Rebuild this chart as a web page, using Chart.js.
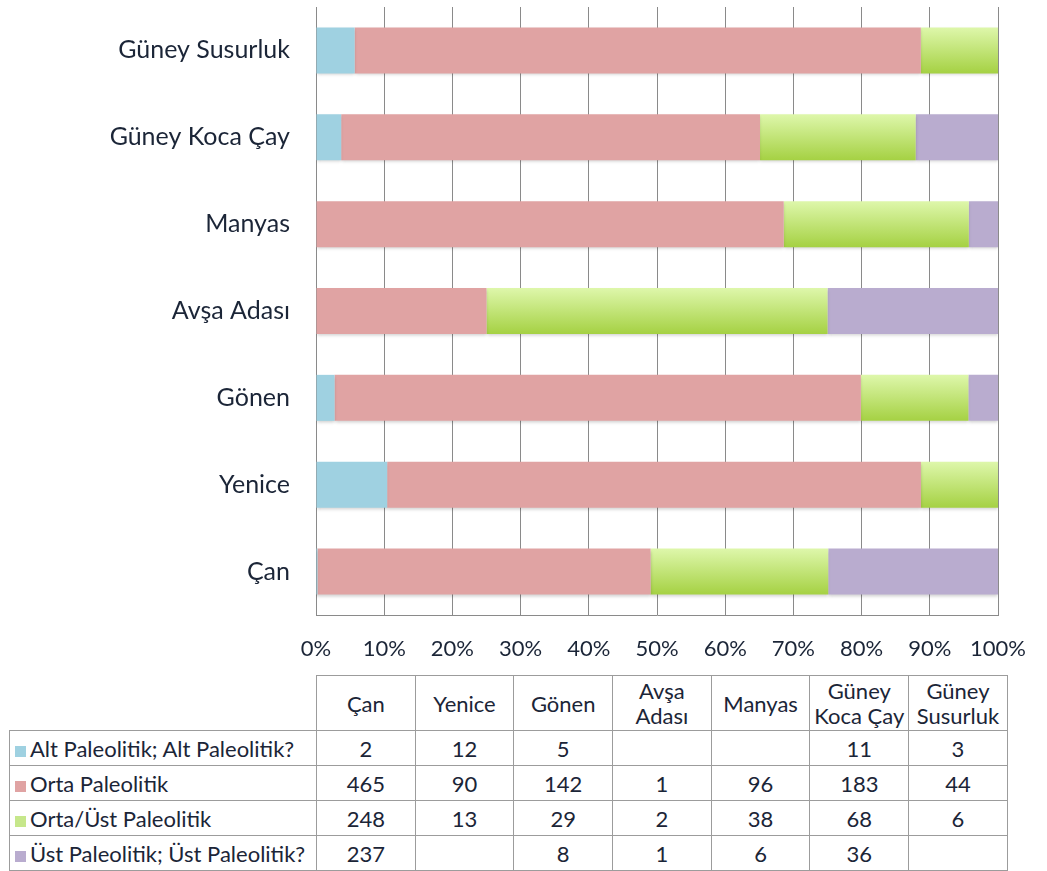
<!DOCTYPE html>
<html lang="tr">
<head>
<meta charset="utf-8">
<script src="https://cdn.jsdelivr.net/npm/chart.js@4"></script>
<style>
    body { margin: 0; background: #fff; font-family: Lato, "Noto Sans", sans-serif; color: #1b2537; }
    #kutu { position: relative; width: 1047px; height: 672px; }
    #tablo {
        position: absolute; left: 9px; top: 675px;
        border-collapse: collapse; table-layout: fixed; font-size: 22px;
    }
    #tablo td { border: 1px solid #9c9c9c; text-align: center; padding: 0; height: 34px; }
    #tablo thead td { height: 54px; line-height: 25px; }
    #tablo thead td.bos { border: none; }
    #tablo td.seri { text-align: left; padding-left: 5px; white-space: nowrap; }
    .kare { display: inline-block; width: 11px; height: 11px; margin-right: 4px; }
</style>
</head>
<body>
<div id="kutu"><canvas id="grafik"></canvas></div>
<table id="tablo"></table>
<script>
// bölgeler (tablo sırası; grafikte alttan üste)
const bolgeler = ['Çan', 'Yenice', 'Gönen', 'Avşa Adası', 'Manyas', 'Güney Koca Çay', 'Güney Susurluk'];
const tabloBasliklari = [['Çan'], ['Yenice'], ['Gönen'], ['Avşa', 'Adası'], ['Manyas'], ['Güney', 'Koca Çay'], ['Güney', 'Susurluk']];

const seriAdlari = ['Alt Paleolitik; Alt Paleolitik?', 'Orta Paleolitik', 'Orta/Üst Paleolitik', 'Üst Paleolitik; Üst Paleolitik?'];
const altPaleolitik = [2, 12, 5, null, null, 11, 3];
const ortaPaleolitik = [465, 90, 142, 1, 96, 183, 44];
const ortaUstPaleolitik = [248, 13, 29, 2, 38, 68, 6];
const ustPaleolitik = [237, null, 8, 1, 6, 36, null];

const eksenEtiketleri = ['0%', '10%', '20%', '30%', '40%', '50%', '60%', '70%', '80%', '90%', '100%'];

const renkler = ['#9fd1e1', '#e0a3a3', '#c6e78b', '#b9accf'];
const seriler = [altPaleolitik, ortaPaleolitik, ortaUstPaleolitik, ustPaleolitik];

const toplamlar = bolgeler.map((_, i) => seriler.reduce((t, s) => t + (s[i] || 0), 0));
const yuzde = (s) => s.map((v, i) => v == null ? null : v / toplamlar[i] * 100);

const cubukOrani = 0.53;

// Orta/Üst çubukları için yukarıdan aşağı açık-koyu yeşil geçiş
const yesilGecis = (c) => {
    const chart = c.chart;
    const y = chart.scales.y;
    if (!chart.chartArea || !y) return renkler[2];
    const orta = y.getPixelForValue(c.dataIndex);
    const yarim = Math.abs(y.getPixelForValue(1) - y.getPixelForValue(0)) * cubukOrani / 2;
    const g = chart.ctx.createLinearGradient(0, orta - yarim, 0, orta + yarim);
    g.addColorStop(0, '#def7ab');
    g.addColorStop(1, '#a5d143');
    return g;
};

const golge = {
    id: 'golge',
    beforeDatasetsDraw(chart) {
        const ctx = chart.ctx;
        ctx.save();
        ctx.shadowColor = 'rgba(0,0,0,0.18)';
        ctx.shadowBlur = 3;
        ctx.shadowOffsetY = 2;
    },
    afterDatasetsDraw(chart) { chart.ctx.restore(); }
};

const yazi = { family: 'Lato, "Noto Sans", sans-serif' };

new Chart(document.getElementById('grafik'), {
    type: 'bar',
    data: {
        labels: bolgeler,
        datasets: seriler.map((s, i) => ({
            label: seriAdlari[i],
            data: yuzde(s),
            backgroundColor: i === 2 ? yesilGecis : renkler[i],
            borderWidth: 0,
            barPercentage: cubukOrani,
            categoryPercentage: 1
        }))
    },
    options: {
        indexAxis: 'y',
        responsive: true,
        maintainAspectRatio: false,
        animation: false,
        layout: { padding: { top: 7, right: 40, left: 0, bottom: 0 } },
        plugins: { legend: { display: false }, tooltip: { enabled: false } },
        scales: {
            x: {
                stacked: true, min: 0, max: 100,
                grid: { color: '#8a8a8a', lineWidth: 1, drawTicks: false },
                border: { display: true, color: '#8a8a8a', width: 1 },
                afterFit: (s) => { s.height = 57; },
                ticks: {
                    stepSize: 10, padding: 21, color: '#1b2537',
                    font: { ...yazi, size: 22 },
                    callback: (v) => eksenEtiketleri[Math.round(v / 10)]
                }
            },
            y: {
                stacked: true, reverse: true,
                grid: { display: false, drawTicks: false },
                border: { display: true, color: '#8a8a8a', width: 1 },
                afterFit: (s) => { s.width = 316; s.paddingTop = 0; s.paddingBottom = 0; },
                ticks: { padding: 26, color: '#1b2537', font: { ...yazi, size: 25 } }
            }
        }
    },
    plugins: [golge]
});

// alttaki veri tablosu
const tablo = document.getElementById('tablo');
let html = '<colgroup><col style="width:307px">' + bolgeler.map(() => '<col style="width:98.7px">').join('') + '</colgroup>';
html += '<thead><tr><td class="bos"></td>' + tabloBasliklari.map(b => `<td>${b.join('<br>')}</td>`).join('') + '</tr></thead><tbody>';
seriler.forEach((s, i) => {
    html += `<tr><td class="seri"><span class="kare" style="background:${renkler[i]}"></span>${seriAdlari[i]}</td>`;
    html += s.map(v => `<td>${v == null ? '' : v}</td>`).join('') + '</tr>';
});
tablo.innerHTML = html + '</tbody>';
</script>
</body>
</html>
